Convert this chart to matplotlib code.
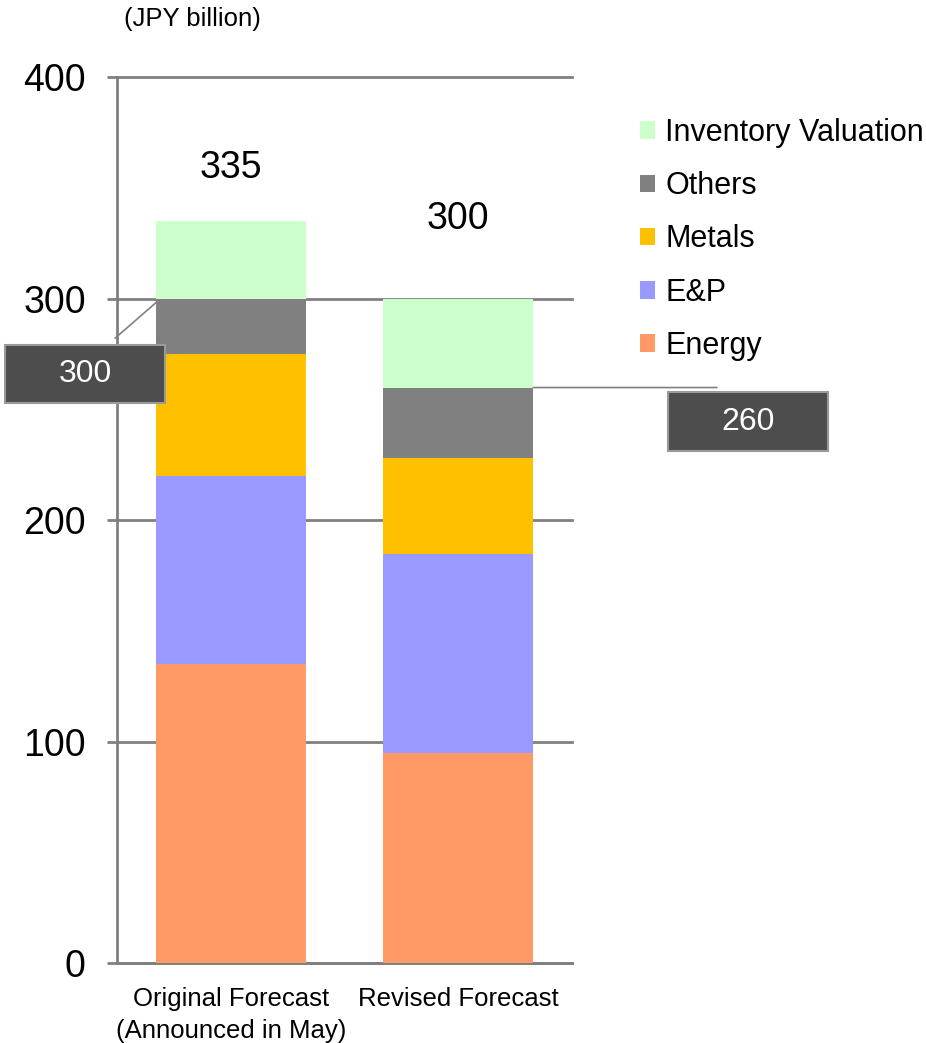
import matplotlib.pyplot as plt
import numpy as np
from matplotlib.patches import Rectangle

plt.rcParams['font.family'] = ['Liberation Sans', 'DejaVu Sans']

# Ordinary income breakdown (JPY billion)
categories = ['Original Forecast\n(Announced in May)', 'Revised Forecast']
segments = ['Energy', 'E&P', 'Metals', 'Others', 'Inventory Valuation']
energy = [135, 95]
e_and_p = [85, 90]
metals = [55, 43]
others = [25, 32]
inventory = [35, 40]
totals = [335, 300]
excl_inventory = [300, 260]
colors = ['#FF9966', '#9999FF', '#FFC000', '#808080', '#CCFFCC']

W, H = 926, 1043
fig = plt.figure(figsize=(W / 100, H / 100), dpi=100)

def fx(px):
    return px / W

def fy(py):
    # pixel row measured from the top
    return 1 - py / H

ax = fig.add_axes([fx(117), fy(963.3), fx(455), (963.3 - 77.5) / H])

x = np.arange(len(categories))
bottom = np.zeros(len(categories))
for name, vals, col in zip(segments, [energy, e_and_p, metals, others, inventory], colors):
    ax.bar(x, vals, 0.66, bottom=bottom, color=col, label=name, zorder=3)
    bottom += np.array(vals)

ax.set_xlim(-0.5, 1.5)
ax.set_ylim(0, 400)
ax.set_yticks([0, 100, 200, 300, 400])
ax.yaxis.grid(True, color='#808080', linewidth=2, zorder=0)
for line in ax.get_ygridlines():
    line.set_clip_on(False)
for s in ['top', 'right']:
    ax.spines[s].set_visible(False)
for s in ['left', 'bottom']:
    ax.spines[s].set_color('#808080')
    ax.spines[s].set_linewidth(2)
ax.tick_params(axis='y', length=7.5, width=2, color='#808080', pad=15, labelsize=27)
ax.tick_params(axis='x', length=0, pad=17, labelsize=18.5)
ax.set_xticks(x)
ax.set_xticklabels(categories, linespacing=1.4)

# totals above each bar
ax.text(0, 359, str(totals[0]), ha='center', va='center', fontsize=27)
ax.text(1, 336, str(totals[1]), ha='center', va='center', fontsize=27)

fig.text(fx(192), fy(19), '(JPY billion)', ha='center', va='center', fontsize=18.5)

# callout boxes: totals excluding inventory valuation
def callout(x0, y0, x1, y1, label):
    fig.patches.append(Rectangle((fx(x0), fy(y1)), fx(x1 - x0), (y1 - y0) / H,
                                 transform=fig.transFigure, facecolor='#4D4D4D',
                                 edgecolor='#9A9A9A', linewidth=1.5, zorder=5))
    fig.text(fx((x0 + x1) / 2), fy((y0 + y1) / 2), label, color='white',
             ha='center', va='center', fontsize=23, zorder=6)

ax.annotate('', xy=(-0.31, excl_inventory[0]), xycoords='data',
            xytext=(113, H - 340), textcoords='figure pixels',
            arrowprops=dict(arrowstyle='-', color='#808080', lw=1.2), zorder=4)
ax.annotate('', xy=(1.33, excl_inventory[1]), xycoords='data',
            xytext=(2.137, excl_inventory[1]), textcoords='data',
            arrowprops=dict(arrowstyle='-', color='#808080', lw=1.2,
                            shrinkA=0, shrinkB=0),
            annotation_clip=False, zorder=4)
callout(5, 345, 165, 403, str(excl_inventory[0]))
callout(668, 392, 828, 451, str(excl_inventory[1]))

handles, labels = ax.get_legend_handles_labels()
fig.legend(handles[::-1], labels[::-1], loc='upper left',
           bbox_to_anchor=(fx(640), fy(118)), frameon=False, fontsize=22,
           handlelength=0.5, handleheight=0.5, handletextpad=0.32,
           labelspacing=0.76, borderaxespad=0, borderpad=0)

fig.savefig('out.png', dpi=100)
